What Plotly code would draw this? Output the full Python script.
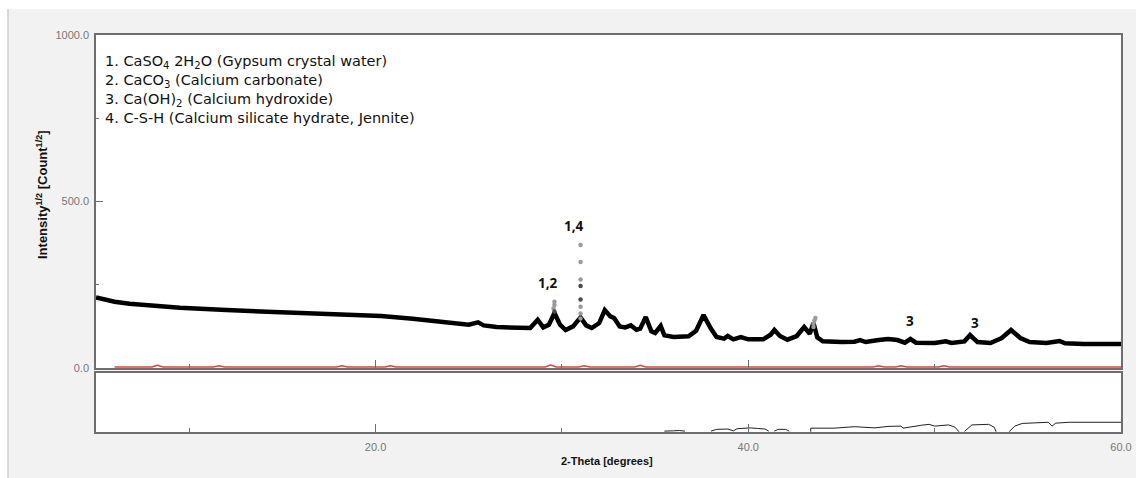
import plotly.graph_objects as go

# ---------------- data ----------------
two_theta = [5.0, 5.5, 6.0, 6.8, 8.0, 9.5, 12.0, 15.0, 18.0, 20.3, 22.0, 23.5, 25.0, 25.5, 25.8,
             26.5, 28.3, 28.7, 29.0, 29.3, 29.6, 29.9, 30.2, 30.6, 31.0, 31.3, 31.6, 32.0, 32.3,
             32.6, 32.8, 33.1, 33.4, 33.7, 34.0, 34.2, 34.5, 34.8, 35.0, 35.3, 35.5, 36.0, 36.8,
             37.2, 37.6, 38.0, 38.3, 38.7, 38.9, 39.2, 39.6, 40.0, 40.8, 41.2, 41.4, 41.7, 42.1,
             42.6, 43.0, 43.3, 43.5, 43.7, 44.0, 45.0, 45.7, 46.0, 46.3, 47.0, 47.5, 48.0, 48.4,
             48.7, 49.0, 50.0, 50.6, 50.9, 51.6, 51.9, 52.3, 53.0, 53.6, 54.1, 54.6, 55.1, 56.0,
             56.7, 57.0, 58.0, 60.0]
intensity = [212, 204, 199, 193, 187, 181, 174, 167, 162, 156, 148, 139, 130, 137, 128,
             123, 120, 145, 122, 130, 165, 130, 114, 125, 152, 128, 120, 135, 174,
             155, 150, 125, 122, 128, 115, 118, 153, 110, 105, 126, 98, 93, 95,
             112, 159, 118, 93, 88, 96, 86, 93, 86, 86, 100, 114, 96, 85,
             96, 123, 103, 135, 92, 80, 78, 79, 84, 78, 84, 87, 84, 76,
             87, 76, 75, 80, 75, 80, 99, 78, 75, 90, 114, 90, 78, 75,
             81, 74, 72, 72]

gray_dot_x = [29.55, 29.6, 29.6, 31.0, 31.0, 31.0, 31.0, 31.0, 31.0, 43.5, 43.5, 43.55, 43.6]
gray_dot_y = [179, 189, 199, 369, 318, 266, 184, 164, 149, 123, 133, 143, 150]
dark_dot_x = [31.0, 31.0, 29.6]
dark_dot_y = [246, 206, 170]

red_x = [6.0, 8.0, 8.3, 8.6, 11.3, 11.6, 11.9, 17.9, 18.2, 18.5, 20.5, 20.8, 21.1, 29.1, 29.4,
         29.7, 30.9, 31.2, 31.5, 33.9, 34.2, 34.5, 46.7, 47.0, 47.3, 47.9, 48.2, 48.5, 50.2,
         50.5, 50.8, 60.0]
red_y = [3, 3, 8, 3, 3, 7, 3, 3, 7, 3, 3, 7, 3, 3, 9,
         3, 3, 7, 3, 3, 8, 3, 3, 7, 3, 3, 7, 3, 3,
         7, 3, 3]

lower_x = [35.5, 35.8, 36.0, 36.3, 36.6, None, 38.0, 38.3, 38.9, 39.2, 39.4, 39.9, 40.1, 40.5,
           40.9, 41.1, None, 41.4, 41.6, 42.0, 42.2, None, 43.35, 43.35, 44.6, 45.7, 46.8,
           47.5, 48.2, 48.3, 49.3, 49.7, 50.0, 50.75, 51.1, 51.3, None, 51.6, 52.0, 52.9,
           53.2, 53.3, None, 54.0, 54.3, 54.7, 56.1, 56.3, 56.5, 57.2, 58.5, 60.0]
lower_y = [1.5, 2.5, 2.0, 2.5, 1.5, None, 1.5, 4.5, 5.0, 2.0, 5.5, 7.0, 7.0, 6.0,
           5.0, 1.5, None, 1.5, 4.5, 4.5, 1.5, None, 0.5, 6.5, 6.5, 9.0, 7.0,
           9.5, 10.0, 6.5, 11.5, 13.0, 10.0, 12.0, 8.0, 0.5, None, 1.0, 12.0, 13.0,
           8.0, 0.5, None, 0.5, 10.0, 14.5, 16.5, 10.0, 15.0, 16.5, 16.0, 16.5]

legend_lines = [
    "1. CaSO<sub>4</sub> 2H<sub>2</sub>O (Gypsum crystal water)",
    "2. CaCO<sub>3</sub> (Calcium carbonate)",
    "3. Ca(OH)<sub>2</sub> (Calcium hydroxide)",
    "4. C-S-H (Calcium silicate hydrate, Jennite)",
]
peak_labels = ["1,2", "1,4", "3", "3"]
peak_label_x = [29.25, 30.65, 48.7, 52.15]
peak_label_y = [255, 425, 140, 135]

x_title = "2-Theta [degrees]"
y_title = "Intensity<sup>1/2</sup> [Count<sup>1/2</sup>]"

# ---------------- figure ----------------
W, H = 1136, 478
def px_x(p):
    return p / W
def px_y(p):
    return 1 - p / H

fig = go.Figure()

fig.add_trace(go.Scatter(x=red_x, y=red_y, mode="lines",
                         line=dict(color="#e2403a", width=1.5),
                         xaxis="x", yaxis="y", showlegend=False))
fig.add_trace(go.Scatter(x=two_theta, y=intensity, mode="lines",
                         line=dict(color="black", width=4.5),
                         xaxis="x", yaxis="y", showlegend=False))
fig.add_trace(go.Scatter(x=gray_dot_x, y=gray_dot_y, mode="markers",
                         marker=dict(color="#9a9a9a", size=4.5),
                         xaxis="x", yaxis="y", showlegend=False))
fig.add_trace(go.Scatter(x=dark_dot_x, y=dark_dot_y, mode="markers",
                         marker=dict(color="#4a4a4a", size=4.5),
                         xaxis="x", yaxis="y", showlegend=False))
fig.add_trace(go.Scatter(x=lower_x, y=lower_y, mode="lines", connectgaps=False,
                         line=dict(color="#222222", width=1),
                         xaxis="x2", yaxis="y2", showlegend=False))

axis_line = "#6e6e6e"
tick_font = dict(family="Liberation Sans, Arial, sans-serif", size=11, color="#777777")

xdom = [px_x(96), px_x(1121)]
fig.update_layout(
    width=W, height=H, autosize=False,
    margin=dict(l=0, r=0, t=0, b=0, pad=0),
    paper_bgcolor="#f2f2f2", plot_bgcolor="white",
    xaxis=dict(domain=xdom, range=[5, 60], anchor="y", automargin=False,
               showline=True, linecolor=axis_line, linewidth=1.5, mirror=True,
               showgrid=False, zeroline=False, showticklabels=False,
               ticks="inside", tick0=0, dtick=20, ticklen=8, tickcolor=axis_line,
               minor=dict(ticks="inside", dtick=10, tick0=0, ticklen=4, tickcolor=axis_line)),
    yaxis=dict(domain=[px_y(368), px_y(35)], range=[0, 1000], anchor="x", automargin=False,
               showline=True, linecolor=axis_line, linewidth=1.5, mirror=True,
               showgrid=False, zeroline=False,
               ticks="inside", tick0=0, dtick=500, ticklen=7, tickcolor=axis_line,
               tickformat=".1f", tickfont=tick_font, ticklabelstandoff=3,
               minor=dict(ticks="inside", dtick=250, tick0=0, ticklen=3, tickcolor=axis_line)),
    xaxis2=dict(domain=xdom, range=[5, 60], anchor="y2", automargin=False,
                showline=True, linecolor=axis_line, linewidth=1.5, mirror=True,
                showgrid=False, zeroline=False,
                ticks="inside", tick0=0, dtick=20, ticklen=8, tickcolor=axis_line,
                tickformat=".1f", tickfont=tick_font, ticklabelstandoff=4,
                minor=dict(ticks="inside", dtick=10, tick0=0, ticklen=4, tickcolor=axis_line)),
    yaxis2=dict(domain=[px_y(432), px_y(373)], range=[0, 100], anchor="x2", automargin=False,
                showline=True, linecolor=axis_line, linewidth=1.5, mirror=True,
                showgrid=False, zeroline=False, showticklabels=False, ticks=""),
)

# white strips around the gray frame
fig.add_shape(type="rect", xref="paper", yref="paper", x0=0, x1=1, y0=px_y(9), y1=1,
              fillcolor="white", line=dict(width=0), layer="below")
fig.add_shape(type="rect", xref="paper", yref="paper", x0=0, x1=px_x(7.5), y0=0, y1=1,
              fillcolor="white", line=dict(width=0), layer="below")
fig.add_shape(type="line", xref="paper", yref="paper", x0=px_x(8), x1=px_x(8), y0=0, y1=px_y(9),
              line=dict(color="#cfcfcf", width=1.5), layer="below")

# legend text block (one multi-line text)
legend_font = dict(family="DejaVu Sans, Open Sans, sans-serif", size=14.5, color="#111111")
fig.add_annotation(text="<br>".join(legend_lines), xref="paper", yref="paper",
                   x=px_x(104), y=px_y(52), xanchor="left", yanchor="top", align="left",
                   showarrow=False, font=legend_font, borderpad=0)

# peak labels
for t, xv, yv in zip(peak_labels, peak_label_x, peak_label_y):
    fig.add_annotation(text="<b>" + t + "</b>", x=xv, y=yv, xref="x", yref="y",
                       showarrow=False, xanchor="center", yanchor="middle",
                       font=dict(family="Open Sans, Noto Sans, sans-serif", size=13.5, color="#111111"))

# axis titles
fig.add_annotation(text="<b>" + y_title + "</b>", xref="paper", yref="paper",
                   x=px_x(42), y=px_y(195), textangle=-90, showarrow=False,
                   xanchor="center", yanchor="middle",
                   font=dict(family="Liberation Sans, Arial, sans-serif", size=13, color="#111111"))
fig.add_annotation(text="<b>" + x_title + "</b>", xref="paper", yref="paper",
                   x=px_x(607), y=px_y(461), showarrow=False,
                   xanchor="center", yanchor="middle",
                   font=dict(family="Liberation Sans, Arial, sans-serif", size=11, color="#111111"))

fig.write_html(
    "out.html",
    config={"displayModeBar": False, "responsive": False},
    default_width="1136px", default_height="478px",
    post_script="document.documentElement.style.margin='0px';document.body.style.margin='0px';"
                "document.body.style.overflow='hidden';document.documentElement.style.overflow='hidden';",
)
